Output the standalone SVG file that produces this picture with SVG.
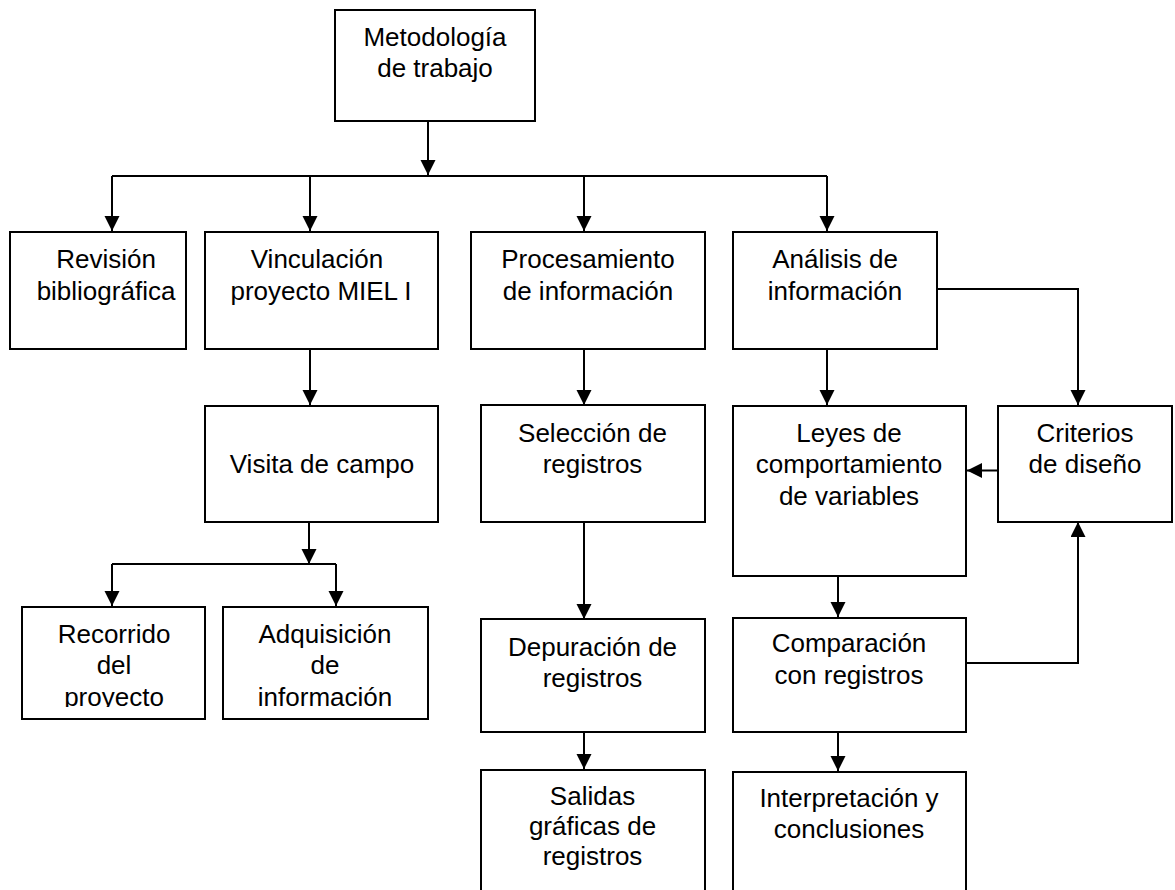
<svg xmlns="http://www.w3.org/2000/svg" width="1175" height="890" viewBox="0 0 1175 890">
  <style>
    .box { fill: #ffffff; stroke: #000000; stroke-width: 2; }
    .lbl { font-family: "Liberation Sans", Arial, Helvetica, sans-serif; font-size: 26px; fill: #000000; text-anchor: middle; }
    .con { fill: none; stroke: #000000; stroke-width: 2; }
    .arr { marker-end: url(#ah); }
  </style>
  <defs>
    <marker id="ah" markerUnits="userSpaceOnUse" markerWidth="16" markerHeight="16" refX="15" refY="7.5" orient="auto">
      <path d="M0,0 L15,7.5 L0,15 z" fill="#000000"/>
    </marker>
    <clipPath id="clipRow4">
      <rect x="0" y="600" width="450" height="107"/>
    </clipPath>
  </defs>
  <rect width="1175" height="890" fill="#ffffff"/>

  <g id="connectors">
    <path class="con arr" d="M428,121 V175"/>
    <path class="con" d="M112,176 H827"/>
    <path class="con arr" d="M112,176 V231"/>
    <path class="con arr" d="M310,176 V231"/>
    <path class="con arr" d="M584,176 V231"/>
    <path class="con arr" d="M827,176 V231"/>
    <path class="con arr" d="M310,349 V405"/>
    <path class="con arr" d="M309,522 V564"/>
    <path class="con" d="M112,564 H336"/>
    <path class="con arr" d="M112,564 V606"/>
    <path class="con arr" d="M336,564 V606"/>
    <path class="con arr" d="M584,349 V405"/>
    <path class="con arr" d="M584,522 V619"/>
    <path class="con arr" d="M584,732 V769"/>
    <path class="con arr" d="M827,349 V405"/>
    <path class="con arr" d="M937,289 H1078 V405"/>
    <path class="con arr" d="M998,470.5 H967"/>
    <path class="con arr" d="M838,576 V617"/>
    <path class="con arr" d="M966,663 H1078 V522"/>
    <path class="con arr" d="M838,732 V771"/>
  </g>

  <g id="metodologia">
    <rect class="box" x="335" y="10" width="200" height="111"/>
    <text class="lbl" x="435" y="46">Metodología</text>
    <text class="lbl" x="435" y="77">de trabajo</text>
  </g>

  <g id="revision">
    <rect class="box" x="10" y="232" width="176" height="117"/>
    <text class="lbl" x="106" y="268">Revisión</text>
    <text class="lbl" x="106" y="300">bibliográfica</text>
  </g>

  <g id="vinculacion">
    <rect class="box" x="205" y="232" width="233" height="117"/>
    <text class="lbl" x="317" y="268">Vinculación</text>
    <text class="lbl" x="321" y="300">proyecto MIEL I</text>
  </g>

  <g id="procesamiento">
    <rect class="box" x="471" y="232" width="234" height="117"/>
    <text class="lbl" x="588" y="268">Procesamiento</text>
    <text class="lbl" x="588" y="300">de información</text>
  </g>

  <g id="analisis">
    <rect class="box" x="733" y="232" width="204" height="117"/>
    <text class="lbl" x="835" y="268">Análisis de</text>
    <text class="lbl" x="835" y="300">información</text>
  </g>

  <g id="visita">
    <rect class="box" x="205" y="406" width="233" height="116"/>
    <text class="lbl" x="322" y="473">Visita de campo</text>
  </g>

  <g id="recorrido">
    <rect class="box" x="22" y="607" width="183" height="112"/>
    <g clip-path="url(#clipRow4)">
      <text class="lbl" x="114" y="643">Recorrido</text>
      <text class="lbl" x="114" y="674">del</text>
      <text class="lbl" x="114" y="706">proyecto</text>
    </g>
  </g>

  <g id="adquisicion">
    <rect class="box" x="223" y="607" width="205" height="112"/>
    <g clip-path="url(#clipRow4)">
      <text class="lbl" x="325" y="643">Adquisición</text>
      <text class="lbl" x="325" y="674">de</text>
      <text class="lbl" x="325" y="706">información</text>
    </g>
  </g>

  <g id="seleccion">
    <rect class="box" x="481" y="405" width="224" height="117"/>
    <text class="lbl" x="592.5" y="442">Selección de</text>
    <text class="lbl" x="592.5" y="473">registros</text>
  </g>

  <g id="depuracion">
    <rect class="box" x="481" y="619" width="224" height="113"/>
    <text class="lbl" x="592.5" y="656">Depuración de</text>
    <text class="lbl" x="592.5" y="687">registros</text>
  </g>

  <g id="salidas">
    <rect class="box" x="481" y="770" width="224" height="140"/>
    <text class="lbl" x="592.5" y="805">Salidas</text>
    <text class="lbl" x="592.5" y="835">gráficas de</text>
    <text class="lbl" x="592.5" y="865">registros</text>
  </g>

  <g id="leyes">
    <rect class="box" x="733" y="406" width="233" height="170"/>
    <text class="lbl" x="849" y="442">Leyes de</text>
    <text class="lbl" x="849" y="473">comportamiento</text>
    <text class="lbl" x="849" y="505">de variables</text>
  </g>

  <g id="criterios">
    <rect class="box" x="998" y="406" width="174" height="116"/>
    <text class="lbl" x="1085" y="442">Criterios</text>
    <text class="lbl" x="1085" y="473">de diseño</text>
  </g>

  <g id="comparacion">
    <rect class="box" x="733" y="618" width="233" height="114"/>
    <text class="lbl" x="849" y="652">Comparación</text>
    <text class="lbl" x="849" y="684">con registros</text>
  </g>

  <g id="interpretacion">
    <rect class="box" x="733" y="772" width="233" height="138"/>
    <text class="lbl" x="849" y="807">Interpretación y</text>
    <text class="lbl" x="849" y="838">conclusiones</text>
  </g>
</svg>
